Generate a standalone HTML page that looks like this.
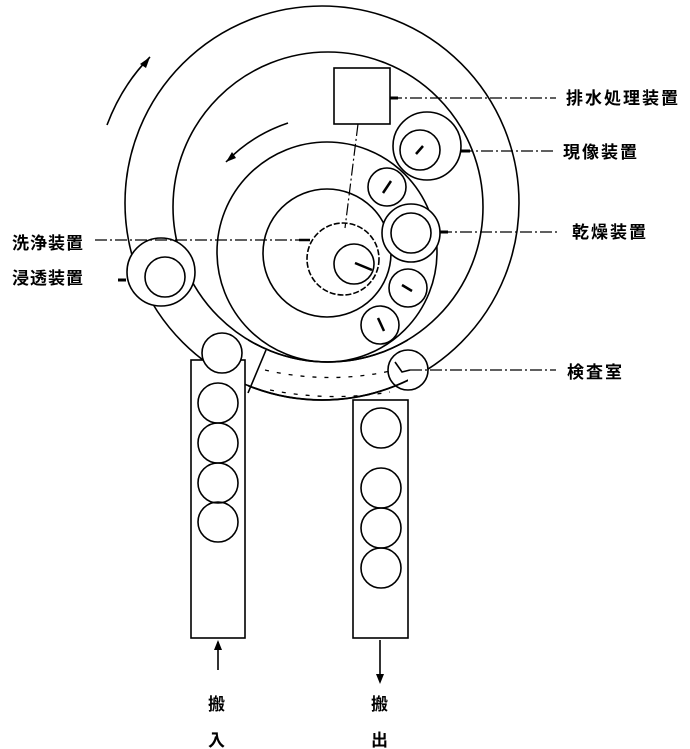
<!DOCTYPE html>
<html><head><meta charset="utf-8"><style>
html,body{margin:0;padding:0;background:#fff;}
svg{display:block}
text{font-family:"Liberation Sans","Noto Sans CJK JP",sans-serif;font-weight:bold;font-size:17px;fill:#000}
</style></head><body>
<svg width="690" height="749" viewBox="0 0 690 749" xmlns="http://www.w3.org/2000/svg">
<defs><clipPath id="band"><rect x="248" y="330" width="160" height="90"/></clipPath></defs>
<g fill="none" stroke="#000" stroke-width="1.6">
<!-- outer -->
<circle cx="322" cy="203" r="197"/>
<circle cx="328" cy="207" r="155"/>
<circle cx="327" cy="252" r="110"/>
<circle cx="327" cy="253" r="64"/>
<circle cx="343" cy="259" r="36" stroke-dasharray="6 2"/>
<circle cx="354" cy="264" r="20"/>
<rect x="334" y="68" width="56" height="56" fill="#fff"/>
<circle cx="427" cy="146" r="34" fill="#fff"/>
<circle cx="420" cy="150" r="20"/>
<circle cx="387" cy="187" r="19" fill="#fff"/>
<circle cx="411" cy="233" r="29" fill="#fff"/>
<circle cx="411" cy="233" r="20"/>
<circle cx="408" cy="288" r="19" fill="#fff"/>
<circle cx="380" cy="325" r="19" fill="#fff"/>
<circle cx="408" cy="370" r="20" fill="#fff"/>
<circle cx="161" cy="272" r="34" fill="#fff"/>
<circle cx="165" cy="277" r="20"/>
<!-- columns -->
<rect x="191" y="360" width="54" height="278" fill="#fff"/>
<rect x="353" y="400" width="55" height="238" fill="#fff"/>
<circle cx="222" cy="353" r="20" fill="#fff"/>
<circle cx="218" cy="403" r="20"/><circle cx="218" cy="443" r="20"/><circle cx="218" cy="483" r="20"/><circle cx="218" cy="522" r="20"/>
<circle cx="381" cy="428" r="20"/><circle cx="381" cy="488" r="20"/><circle cx="381" cy="528" r="20"/><circle cx="381" cy="568" r="20"/>
<!-- band -->
<g clip-path="url(#band)"><circle cx="322" cy="203" r="197" stroke-width="1.8" fill="none"/><circle cx="328" cy="207" r="155"/></g>
<line x1="266" y1="350" x2="248" y2="393"/>
<g stroke-dasharray="4 8" stroke-width="1.3"><path d="M265 370 Q330 385 395 370"/><path d="M270 390 Q330 402 390 392"/></g>
<!-- leaders -->
<g stroke-dasharray="12 3 2 3" stroke-width="1.2">
<line x1="390" y1="98" x2="556" y2="98"/>
<line x1="461" y1="151" x2="553" y2="151"/>
<line x1="440" y1="232" x2="558" y2="232"/>
<line x1="410" y1="370" x2="556" y2="370"/>
<line x1="95" y1="240" x2="300" y2="240"/>
<line x1="358" y1="124" x2="345" y2="228"/>
</g>
<line x1="390" y1="98" x2="398" y2="98" stroke-width="3"/>
<line x1="461" y1="151" x2="470" y2="151" stroke-width="3"/>
<line x1="440" y1="232" x2="448" y2="232" stroke-width="3"/>
<line x1="118" y1="280" x2="126" y2="280" stroke-width="3"/>
<!-- radial ticks -->
<g stroke-width="2.5"><line x1="416" y1="154" x2="423" y2="146"/><line x1="383" y1="193" x2="391" y2="181"/><line x1="402" y1="285" x2="412" y2="291"/><line x1="378" y1="318" x2="384" y2="331"/><line x1="355" y1="263" x2="372" y2="270"/><line x1="299" y1="240" x2="310" y2="240"/></g>
<polyline points="395,362 402,372 410,370"/>
<!-- rotation arrows -->
<path d="M107 125 Q122 85 150 57"/>
<path d="M226 162 Q252 135 288 123"/>
<!-- in/out arrows -->
<line x1="218" y1="642" x2="218" y2="670"/>
<line x1="380" y1="640" x2="380" y2="680"/>
</g>
<g fill="#000">
<polygon points="150,57 140,64 146,68"/>
<polygon points="226,162 232,152 236,158"/>
<polygon points="218,640 214,650 222,650"/>
<polygon points="380,684 376,674 384,674"/>
</g>
<text x="566" y="104" letter-spacing="2">排水処理装置</text>
<text x="563" y="158" letter-spacing="2">現像装置</text>
<text x="572" y="238" letter-spacing="2">乾燥装置</text>
<text x="567" y="378" letter-spacing="2">検査室</text>
<text x="12" y="249" letter-spacing="1">洗浄装置</text>
<text x="12" y="284" letter-spacing="1">浸透装置</text>
<text x="208" y="710" font-size="15">搬</text>
<text x="208" y="746" font-size="15">入</text>
<text x="371" y="710" font-size="15">搬</text>
<text x="371" y="746" font-size="15">出</text>
</svg>
</body></html>
